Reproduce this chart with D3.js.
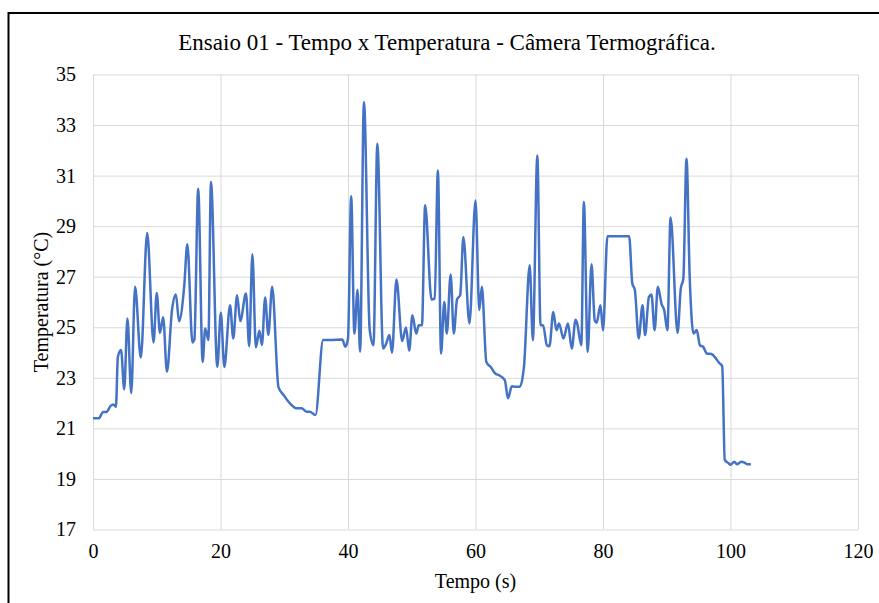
<!DOCTYPE html>
<html>
<head>
<meta charset="utf-8">
<script src="https://cdn.jsdelivr.net/npm/d3@7"></script>
<style>
  body { margin: 0; background: #fff; }
  svg { display: block; }
  svg text { font-family: "Liberation Serif", "Times New Roman", serif; }
</style>
</head>
<body>
<div id="chart"></div>
<script>
// Time (s) and temperature (°C)
const tempo = [
  0, 0.9, 1.6, 2.1, 2.8, 3.2, 3.6, 3.9, 4.4, 4.9, 5.4, 6.0, 6.6, 7.5, 8.5, 9.5, 10.0, 10.5, 11.0, 11.6,
  12.4, 13.0, 13.5, 14.3, 14.8, 15.6, 15.9, 16.5, 17.2, 17.6, 18.1, 18.5, 19.5, 20.05, 20.6, 21.5, 22.0,
  22.6, 23.1, 24.0, 24.5, 25.0, 25.55, 26.1, 26.5, 27.0, 27.5, 28.1, 29.1, 29.9, 30.9, 31.9, 32.7, 33.5,
  34.0, 34.9, 36.1, 37.2, 39.1, 39.6, 40.0, 40.5, 41.0, 41.5, 41.9, 42.5, 43.4, 44.0, 44.6, 45.5, 46.0,
  46.5, 46.9, 47.6, 48.5, 49.1, 49.6, 50.1, 50.7, 51.1, 51.6, 52.1, 53.1, 53.6, 54.1, 54.6, 55.1, 55.5,
  56.1, 56.6, 57.1, 57.6, 58.1, 59.05, 60.0, 60.6, 61.0, 61.7, 62.4, 63.1, 63.7, 64.6, 65.1, 65.7, 66.2,
  66.95, 67.6, 68.5, 69.0, 69.7, 70.2, 70.6, 71.2, 71.6, 72.2, 72.7, 73.1, 73.8, 74.5, 75.1, 75.7, 75.9,
  76.6, 77.0, 77.6, 78.2, 78.7, 79.0, 79.6, 80.0, 80.7, 84.1, 84.6, 85.0, 85.6, 86.2, 86.6, 87.2, 87.6,
  88.1, 88.6, 89.2, 89.6, 90.1, 90.6, 91.7, 92.2, 92.6, 93.1, 93.6, 94.2, 94.7, 95.2, 95.7, 96.3, 97.0,
  97.7, 98.2, 98.7, 99.1, 99.7, 100.0, 100.6, 101.0, 101.7, 102.2, 102.7, 103.2
];
const temperatura = [
  21.4, 21.4, 21.65, 21.65, 21.9, 21.95, 21.85, 23.83, 24.1, 22.55, 25.35, 22.4, 26.6, 23.8, 28.73, 24.4, 26.36, 24.78, 25.4, 23.24,
  25.7, 26.3, 25.24, 26.6, 28.28, 24.4, 24.5, 30.48, 23.63, 24.95, 24.5, 30.75, 23.43, 25.57, 23.43, 25.87, 24.56,
  26.27, 25.24, 26.34, 24.25, 27.89, 24.2, 24.86, 24.3, 26.18, 24.7, 26.6, 22.62, 22.32, 21.99, 21.8, 21.8, 21.66,
  21.66, 21.53, 24.5, 24.5, 24.52, 24.23, 24.55, 30.18, 24.75, 26.47, 24.03, 33.91, 24.91, 24.29, 32.26, 24.16, 24.36,
  24.69, 23.99, 26.89, 24.46, 24.99, 24.07, 25.48, 24.75, 25.08, 25.08, 29.83, 26.1, 26.14, 31.2, 23.96, 26.0, 24.75,
  27.09, 24.75, 26.1, 26.27, 28.57, 25.15, 30.02, 25.68, 26.6, 23.63, 23.43, 23.17, 23.1, 22.91, 22.19, 22.67, 22.65,
  22.65, 23.43, 27.45, 24.49, 31.8, 25.08, 25.08, 24.29, 24.25, 25.6, 24.88, 25.15, 24.56, 25.15, 24.16, 25.3, 25.2,
  24.29, 29.96, 24.03, 27.49, 25.28, 25.18, 25.87, 24.88, 28.6, 28.6, 26.73, 26.47, 24.56, 25.87, 24.69, 26.2, 26.3,
  24.88, 26.6, 25.91, 25.68, 24.88, 29.34, 24.78, 26.53, 26.92, 31.67, 26.99, 24.75, 24.89, 24.29, 24.23, 23.96, 23.94,
  23.77, 23.6, 23.46, 19.75, 19.62, 19.56, 19.68, 19.58, 19.68, 19.64, 19.58, 19.58
];
const xTicks = [0, 20, 40, 60, 80, 100, 120];
const yTicks = [17, 19, 21, 23, 25, 27, 29, 31, 33, 35];

const width = 879;
const height = 603;
const margin = { top: 74.5, right: 21, bottom: 72, left: 93 };
const serif = "'Liberation Serif', 'Times New Roman', serif";

const svg = d3.select("#chart")
  .append("svg")
  .attr("width", width)
  .attr("height", height);

// outer frame of the figure
svg.append("rect")
  .attr("x", 8.5)
  .attr("y", 13)
  .attr("width", 900)
  .attr("height", 700)
  .attr("fill", "#fff")
  .attr("stroke", "#000")
  .attr("stroke-width", 2);

const x = d3.scaleLinear()
  .domain([0, 120])
  .range([margin.left, width - margin.right]);

const y = d3.scaleLinear()
  .domain([17, 35])
  .range([height - margin.bottom - 1.5, margin.top]);

// grid lines
svg.append("g")
  .attr("transform", `translate(0, ${y(17)})`)
  .call(d3.axisBottom(x).tickValues(xTicks).tickSize(-(y(17) - y(35))).tickFormat(""))
  .call(g => g.select(".domain").remove())
  .call(g => g.selectAll("line").attr("stroke", "#d9d9d9"));

svg.append("g")
  .attr("transform", `translate(${x(0)}, 0)`)
  .call(d3.axisLeft(y).tickValues(yTicks).tickSize(-(x(120) - x(0))).tickFormat(""))
  .call(g => g.select(".domain").remove())
  .call(g => g.selectAll("line").attr("stroke", "#d9d9d9"));

// tick labels
svg.append("g")
  .attr("transform", `translate(0, ${y(17)})`)
  .call(d3.axisBottom(x).tickValues(xTicks).tickSize(0).tickPadding(14))
  .attr("font-family", serif)
  .attr("font-size", 20)
  .call(g => g.select(".domain").remove())
  .call(g => g.selectAll("text").attr("fill", "#000"));

svg.append("g")
  .attr("transform", `translate(${x(0)}, 0)`)
  .call(d3.axisLeft(y).tickValues(yTicks).tickSize(0).tickPadding(17))
  .attr("font-family", serif)
  .attr("font-size", 20)
  .call(g => g.select(".domain").remove())
  .call(g => g.selectAll("text").attr("fill", "#000"));

// the temperature line
const points = tempo.map((t, i) => [t, temperatura[i]]);
const line = d3.line()
  .x(d => x(d[0]))
  .y(d => y(d[1]))
  .curve(d3.curveMonotoneX);

svg.append("path")
  .datum(points)
  .attr("fill", "none")
  .attr("stroke", "#4472c4")
  .attr("stroke-width", 2.5)
  .attr("stroke-linejoin", "round")
  .attr("d", line);

// title
svg.append("text")
  .attr("x", 447)
  .attr("y", 50)
  .attr("text-anchor", "middle")
  .attr("font-family", serif)
  .attr("font-size", 23)
  .text("Ensaio 01 - Tempo x Temperatura - Câmera Termográfica.");

// axis titles
svg.append("text")
  .attr("x", x(60))
  .attr("y", 588)
  .attr("text-anchor", "middle")
  .attr("font-family", serif)
  .attr("font-size", 20)
  .text("Tempo (s)");

svg.append("text")
  .attr("transform", `translate(48, ${(y(17) + y(35)) / 2}) rotate(-90)`)
  .attr("text-anchor", "middle")
  .attr("font-family", serif)
  .attr("font-size", 20)
  .text("Temperatura (°C)");
</script>
</body>
</html>
